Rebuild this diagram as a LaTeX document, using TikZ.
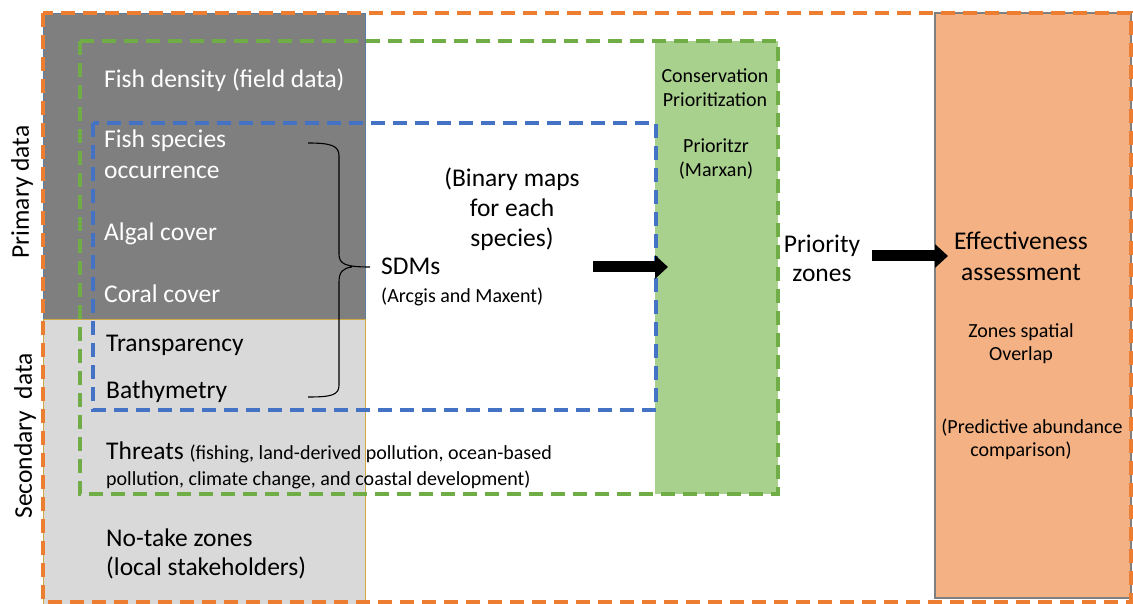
\documentclass[tikz,border=0pt]{standalone}
\usepackage{fontspec}
\setmainfont{Carlito}
\usetikzlibrary{arrows.meta}
\definecolor{dgray}{RGB}{127,127,127}
\definecolor{lgray}{RGB}{217,217,217}
\definecolor{goldedge}{RGB}{205,170,70}
\definecolor{boxblue}{RGB}{90,125,160}
\definecolor{gfill}{RGB}{169,209,142}
\definecolor{gdash}{RGB}{112,173,71}
\definecolor{bdash}{RGB}{68,114,196}
\definecolor{odash}{RGB}{237,125,49}
\definecolor{ofill}{RGB}{244,177,131}
\newcommand{\bigtxt}{\fontsize{25.5}{31}\selectfont}
\newcommand{\smtxt}{\fontsize{20}{24}\selectfont}
\begin{document}
\begin{tikzpicture}[x=1pt,y=-1pt,
  big/.style={font=\bigtxt, inner sep=0pt},
  sm/.style={font=\smtxt, inner sep=0pt},
  lbl/.style={anchor=base west},
  ctr/.style={anchor=base},
  dashbox/.style={line width=3.2pt, dash pattern=on 14pt off 8pt},
  fatarrow/.style={line width=11pt, -{Triangle[length=13pt,width=23pt]}}]
\useasboundingbox (0,0) rectangle (1133,604);
% filled boxes
\filldraw[fill=dgray, draw=boxblue, line width=0.8pt] (43,13) rectangle (365,319);
\filldraw[fill=lgray, draw=goldedge, line width=1pt] (43,319) rectangle (365,604);
\fill[gfill] (655,41) rectangle (778,494);
\filldraw[fill=ofill, draw=dgray, line width=1.2pt] (935,13) rectangle (1131,598);
% dashed frames
\draw[dashbox, bdash] (93,123) rectangle (656,410);
\draw[dashbox, gdash] (80,41) rectangle (778,494);
\draw[dashbox, odash] (43,13) rectangle (1131,602);
% side labels
\node[big, rotate=90] (prim) at (22,192) {Primary data};
\node[big, rotate=90] (sec) at (25,436) {Secondary\hspace{0.45em}data};
% left column texts
\node[big, lbl, text=white] (fd) at (104,88) {Fish density (field data)};
\node[big, lbl, text=white] (fs1) at (104,148) {Fish species};
\node[big, lbl, text=white] (fs2) at (104,179) {occurrence};
\node[big, lbl, text=white] (alg) at (104,241) {Algal cover};
\node[big, lbl, text=white] (cor) at (104,302) {Coral cover};
\node[big, lbl] (tra) at (106,351) {Transparency};
\node[big, lbl] (bat) at (106,398) {Bathymetry};
\node[big, lbl] (thr1) at (106,459) {Threats {\smtxt (fishing, land-derived pollution, ocean-based}};
\node[sm, lbl] (thr2) at (106,485) {pollution, climate change, and coastal development)};
\node[big, lbl] (nt1) at (106,546) {No-take zones};
\node[big, lbl] (nt2) at (106,575) {(local stakeholders)};
% brace
\draw[line width=1.1pt] (308,143) .. controls (332,143) and (339,146) .. (339,156)
  -- (339,254) .. controls (339,264) and (345,267) .. (370,267)
  (352,267) .. controls (343,268) and (339,272) .. (339,282)
  -- (339,385) .. controls (339,395) and (332,397) .. (308,397);
% SDMs
\node[big, lbl] (sdm) at (381,275) {SDMs};
\node[sm, lbl] (sdm2) at (381,302) {(Arcgis and Maxent)};
\node[big, ctr] (bin1) at (512,187) {(Binary maps};
\node[big, ctr] (bin2) at (512,217) {for each};
\node[big, ctr] (bin3) at (512,247) {species)};
% green box texts
\node[sm, ctr] (con1) at (715,83) {Conservation};
\node[sm, ctr] (con2) at (715,107) {Prioritization};
\node[sm, ctr] (ptz1) at (716,153) {Prioritzr};
\node[sm, ctr] (ptz2) at (716,177) {(Marxan)};
% priority
\node[big, ctr] (pri1) at (822,253) {Priority};
\node[big, ctr] (pri2) at (822,282) {zones};
% effectiveness
\node[big, ctr] (eff1) at (1021,250) {Effectiveness};
\node[big, ctr] (eff2) at (1021,280) {assessment};
\node[sm, ctr] (zsp1) at (1021,337) {Zones spatial};
\node[sm, ctr] (zsp2) at (1021,360) {Overlap};
\node[sm, ctr] (pa1) at (1032,433) {(Predictive abundance};
\node[sm, ctr] (pa2) at (1021,456) {comparison)};
% arrows
\coordinate (a1s) at (593,267);
\coordinate (a1e) at (668,267);
\coordinate (a2s) at (872,256);
\coordinate (a2e) at (948,256);
\draw[fatarrow] (a1s) -- (a1e);
\draw[fatarrow] (a2s) -- (a2e);
\end{tikzpicture}
\end{document}
